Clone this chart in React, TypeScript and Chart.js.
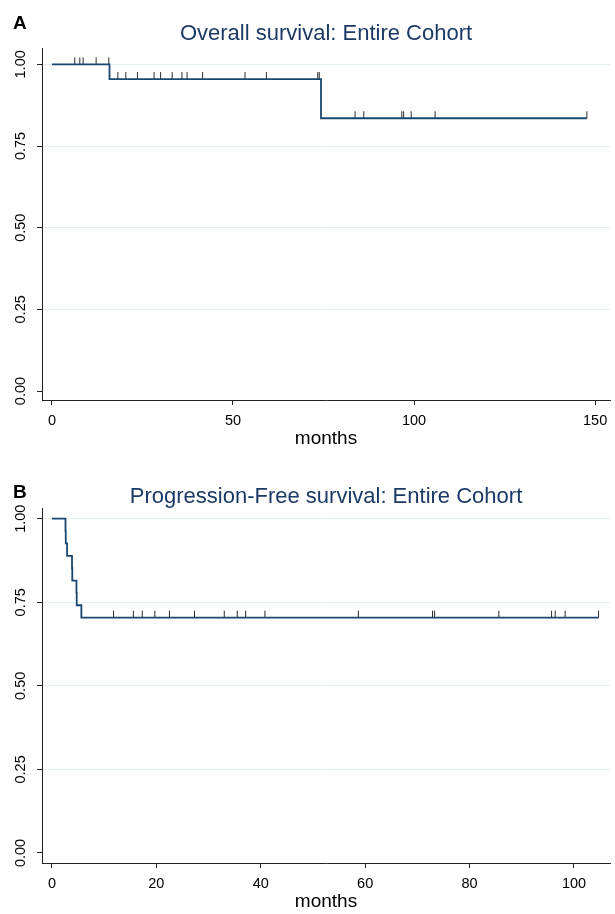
import React, { useEffect, useRef } from "react";
import { Chart, registerables } from "chart.js";
Chart.register(...registerables);

// ---- Data: Overall survival (panel A) ----
const osEventTimes = [0, 15.9, 74.3];
const osSurvival = [1, 0.955, 0.835];
const osEndTime = 147.7;
const osCensorTimes = [
  6.3, 7.7, 8.6, 12.2, 15.7, 18.2, 20.4, 23.6, 28.2, 30.0, 33.2, 35.9, 37.3,
  41.6, 53.3, 59.2, 73.4, 73.8, 83.7, 86.1, 96.6, 97.1, 99.2, 105.8, 147.7,
];
const osXTicks = [0, 50, 100, 150];

// ---- Data: Progression-free survival (panel B) ----
const pfsEventTimes = [0, 2.6, 2.65, 2.9, 3.85, 3.9, 4.7, 4.75, 5.64];
const pfsSurvival = [1, 0.963, 0.926, 0.889, 0.852, 0.815, 0.778, 0.741, 0.704];
const pfsEndTime = 104.7;
const pfsCensorTimes = [
  11.8, 15.6, 17.3, 19.7, 22.5, 27.3, 33.0, 35.5, 37.1, 40.8, 58.7, 72.9,
  73.3, 85.6, 95.7, 96.4, 98.3, 104.7,
];
const pfsXTicks = [0, 20, 40, 60, 80, 100];

const yTicks = [0, 0.25, 0.5, 0.75, 1];
const yTickLabels = ["0.00", "0.25", "0.50", "0.75", "1.00"];

const FONT = '"Liberation Sans", Arial, Helvetica, sans-serif';
const NAVY = "#1a476f";
const TITLE_COLOR = "#1c3a66";

function kmAt(times: number[], surv: number[], t: number) {
  let s = surv[0];
  for (let i = 0; i < times.length; i++) if (times[i] <= t) s = surv[i];
  return s;
}

type PanelCfg = {
  letter: string;
  title: string;
  eventTimes: number[];
  survival: number[];
  endTime: number;
  censorTimes: number[];
  xTicks: number[];
  xMin: number;
  xMax: number;
  yMin: number;
  yMax: number;
  padTop: number;
  xAxisHeight: number;
  titleY: number;
  letterY: number;
};

const panels: PanelCfg[] = [
  {
    letter: "A",
    title: "Overall survival: Entire Cohort",
    eventTimes: osEventTimes,
    survival: osSurvival,
    endTime: osEndTime,
    censorTimes: osCensorTimes,
    xTicks: osXTicks,
    xMin: -2.74,
    xMax: 154.1,
    yMin: -0.0275,
    yMax: 1.05,
    padTop: 48,
    xAxisHeight: 57,
    titleY: 39.5,
    letterY: 29,
  },
  {
    letter: "B",
    title: "Progression-Free survival: Entire Cohort",
    eventTimes: pfsEventTimes,
    survival: pfsSurvival,
    endTime: pfsEndTime,
    censorTimes: pfsCensorTimes,
    xTicks: pfsXTicks,
    xMin: -1.9,
    xMax: 106.9,
    yMin: -0.03,
    yMax: 1.032,
    padTop: 51,
    xAxisHeight: 51,
    titleY: 46,
    letterY: 41,
  },
];

function makeTickImage() {
  const c = document.createElement("canvas");
  c.width = 3;
  c.height = 16;
  const g = c.getContext("2d")!;
  g.fillStyle = "#2a2a2a";
  g.fillRect(1, 1, 1, 7);
  return c;
}

function Panel({ cfg }: { cfg: PanelCfg }) {
  const ref = useRef<HTMLCanvasElement>(null);
  useEffect(() => {
    if (!ref.current) return;
    const tickImg = makeTickImage();
    const linePts = cfg.eventTimes.map((t, i) => ({ x: t, y: cfg.survival[i] }));
    linePts.push({ x: cfg.endTime, y: cfg.survival[cfg.survival.length - 1] });
    const censorPts = cfg.censorTimes.map((t) => ({
      x: t,
      y: kmAt(cfg.eventTimes, cfg.survival, t),
    }));

    const textPlugin = {
      id: "texts",
      afterDraw(chart: any) {
        const ctx = chart.ctx;
        const xs = chart.scales.x;
        const ys = chart.scales.y;
        const ca = chart.chartArea;
        ctx.save();
        ctx.fillStyle = "#000";
        ctx.font = `14.5px ${FONT}`;
        ctx.textAlign = "center";
        ctx.textBaseline = "alphabetic";
        cfg.xTicks.forEach((v) => {
          ctx.fillText(String(v), xs.getPixelForValue(v), ca.bottom + 25);
        });
        yTicks.forEach((v, i) => {
          ctx.save();
          ctx.translate(21, ys.getPixelForValue(v));
          ctx.rotate(-Math.PI / 2);
          ctx.textAlign = "center";
          ctx.textBaseline = "middle";
          ctx.fillText(yTickLabels[i], 0, 0);
          ctx.restore();
        });
        ctx.font = `19px ${FONT}`;
        ctx.fillText("months", (ca.left + ca.right) / 2, ca.bottom + 44);
        ctx.fillStyle = TITLE_COLOR;
        ctx.font = `22px ${FONT}`;
        ctx.fillText(cfg.title, 326, cfg.titleY);
        ctx.fillStyle = "#000";
        ctx.textAlign = "left";
        ctx.font = `bold 19px ${FONT}`;
        ctx.fillText(cfg.letter, 13, cfg.letterY);
        ctx.restore();
      },
    };

    const chart = new Chart(ref.current, {
      type: "line",
      data: {
        datasets: [
          {
            data: linePts,
            borderColor: NAVY,
            borderWidth: 1.8,
            stepped: "before",
            pointRadius: 0,
            fill: false,
          } as any,
          {
            data: censorPts,
            showLine: false,
            pointStyle: tickImg as any,
            pointRadius: 4,
            borderColor: "#2a2a2a",
            backgroundColor: "#2a2a2a",
          } as any,
        ],
      },
      options: {
        animation: false,
        responsive: false,
        events: [],
        layout: { padding: { top: cfg.padTop, left: 0, right: 0, bottom: 0 } },
        plugins: { legend: { display: false }, tooltip: { enabled: false } },
        scales: {
          x: {
            type: "linear",
            min: cfg.xMin,
            max: cfg.xMax,
            afterBuildTicks: (s: any) => {
              s.ticks = cfg.xTicks.map((v) => ({ value: v }));
            },
            afterFit: (s: any) => {
              s.height = cfg.xAxisHeight;
            },
            ticks: { display: false },
            grid: {
              drawOnChartArea: false,
              drawTicks: true,
              tickLength: 5,
              tickColor: "#222",
            },
            border: { display: true, color: "#222", width: 1 },
          },
          y: {
            type: "linear",
            min: cfg.yMin,
            max: cfg.yMax,
            afterBuildTicks: (s: any) => {
              s.ticks = yTicks.map((v) => ({ value: v }));
            },
            afterFit: (s: any) => {
              s.width = 42;
            },
            ticks: { display: false },
            grid: {
              drawOnChartArea: true,
              drawTicks: true,
              tickLength: 5,
              tickColor: "#222",
              color: (c: any) =>
                c.tick && c.tick.value === 0 ? "rgba(0,0,0,0)" : "#e3eef0",
            },
            border: { display: true, color: "#222", width: 1 },
          },
        },
      } as any,
      plugins: [textPlugin],
    });
    return () => chart.destroy();
  }, [cfg]);
  return <canvas ref={ref} width={615} height={457} style={{ display: "block" }} />;
}

export default function App() {
  return (
    <div
      style={{
        position: "absolute",
        left: 0,
        top: 0,
        width: 615,
        height: 914,
        background: "#fff",
      }}
    >
      {panels.map((p) => (
        <Panel key={p.letter} cfg={p} />
      ))}
    </div>
  );
}
